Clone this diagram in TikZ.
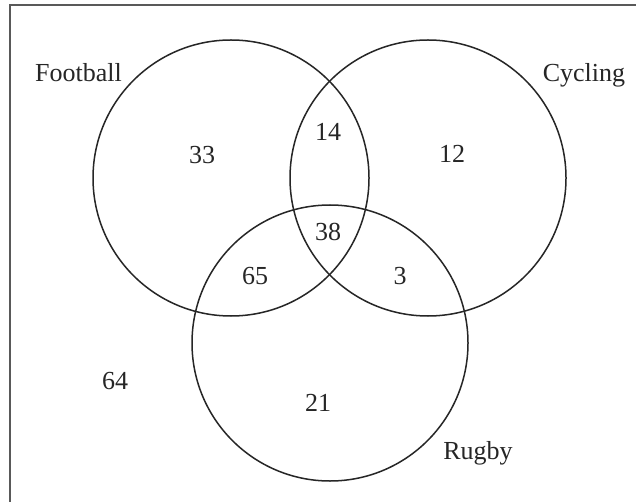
\documentclass[tikz,border=0pt]{standalone}
\usepackage{fontspec}
\setmainfont{Liberation Serif}
\begin{document}
\begin{tikzpicture}[x=1pt,y=-1pt,
  setc/.style={draw=black!85,line width=1.5pt,circle,minimum size=276pt,inner sep=0pt},
  frame/.style={draw=black!65,line width=2pt},
  lab/.style={font=\fontsize{26}{30}\selectfont,text=black!85,inner sep=0pt},
  num/.style={font=\fontsize{26}{30}\selectfont,text=black!85,inner sep=0pt}]
\useasboundingbox (0,0) rectangle (636,502);
\fill[white] (0,0) rectangle (636,502);
\coordinate (tl) at (10,5);
\coordinate (tr) at (636,5);
\coordinate (bl) at (10,502);
\draw[frame] (tr) -- (tl) -- (bl);
\node[setc] (F) at (231,178) {};
\node[setc] (C) at (428,178) {};
\node[setc] (R) at (330,343) {};
\node[lab,anchor=base west] (lF) at (35,82) {Football};
\node[lab,anchor=base] (lC) at (584,82) {Cycling};
\node[lab,anchor=base] (lR) at (478,459) {Rugby};
\node[num] (n33) at (202,155) {33};
\node[num] (n14) at (328,132) {14};
\node[num] (n12) at (452,154) {12};
\node[num] (n38) at (328,232) {38};
\node[num] (n65) at (255,276) {65};
\node[num] (n3) at (400,276) {3};
\node[num] (n21) at (318,403) {21};
\node[num] (n64) at (115,381) {64};
\end{tikzpicture}
\end{document}
